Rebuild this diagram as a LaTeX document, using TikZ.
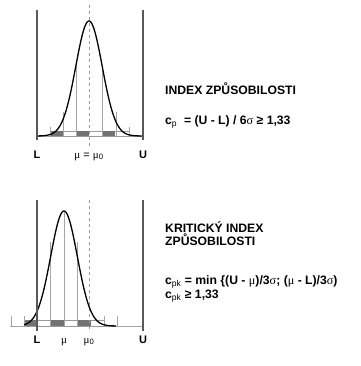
\documentclass[tikz,border=0pt]{standalone}
\usepackage{fontspec}
\setmainfont{Liberation Sans}
\newfontfamily\grk{Liberation Serif}
\usetikzlibrary{positioning}

\tikzset{
  limit/.style={draw=black!65, line width=2pt},
  bell/.style={draw=black, line width=1.3pt},
  sigline/.style={draw=black!35, line width=0.6pt},
  meanline/.style={draw=black!40, dashed, line width=0.6pt},
  band/.style={draw=black!40, line width=0.5pt},
  cell/.style={fill=black!55},
  lbl/.style={font=\bfseries\fontsize{11}{13}\selectfont, anchor=base},
  sym/.style={font=\fontsize{11}{13}\selectfont, anchor=base},
  txt/.style={font=\bfseries\fontsize{12.2}{14}\selectfont, anchor=base west, inner sep=0pt},
}

\begin{document}
\begin{tikzpicture}[x=1pt,y=-1pt]
  \useasboundingbox (0,0) rectangle (360,366);

  % upper chart: mean on target
  \draw[sigline] (37,136) -- (143,136);
  \draw[band] (50,131) rectangle (129,136);
  \foreach \a in {50,76,102}
    \fill[cell] (\a,131) rectangle ++(13.3,5);
  \foreach \a in {76,102}
    \draw[sigline] (\a,136) -- (\a,66);
  \foreach \a in {63,116}
    \draw[sigline] (\a,136) -- (\a,112);
  \foreach \a in {50,129}
    \draw[sigline] (\a,136) -- (\a,127);
  \draw[meanline] (89,5) -- (89,148);
  \draw[bell] plot[domain=37:143, samples=120, smooth]
    (\x, {136 - 115*exp(-((\x-89)/13.2)^2/2)});
  \draw[limit] (37,10) -- (37,140);
  \draw[limit] (143,10) -- (143,140);
  \node[lbl] (L1) at (37,158) {L};
  \node[sym] (M1) at (89,158) {{\grk μ} = {\grk μ}\textsubscript{0}};
  \node[lbl] (U1) at (143,158) {U};

  \node[txt] (T1) at (165,95) {INDEX ZPŮSOBILOSTI};
  \node[txt] (F1) at (165,125)
    {c\textsubscript{\normalfont p} \ = (U - L) / 6{\normalfont\grk σ} ≥ 1,33};

  % lower chart: mean shifted
  \draw[sigline] (10,326) -- (143,326);
  \draw[band] (24,320) rectangle (104,326);
  \foreach \a in {24,50.7,77.3}
    \fill[cell] (\a,320) rectangle ++(13.3,6);
  \foreach \a in {50.7,77.3}
    \draw[sigline] (\a,326) -- (\a,242);
  \draw[sigline] (64,326) -- (64,211);
  \foreach \a in {11,24,104,117}
    \draw[sigline] (\a,326) -- (\a,316);
  \draw[meanline] (89,200) -- (89,330);
  \draw[bell] plot[domain=24:116, samples=120, smooth]
    (\x, {326 - 115*exp(-((\x-64)/13.3)^2/2)});
  \draw[limit] (37,200) -- (37,331);
  \draw[limit] (143,200) -- (143,331);
  \node[lbl] (L2) at (37,343) {L};
  \node[sym] (M2) at (64,343) {\grk μ};
  \node[sym] (M0) at (89,343) {{\grk μ}\textsubscript{0}};
  \node[lbl] (U2) at (143,343) {U};

  \node[txt] (T2) at (165,232) {KRITICKÝ INDEX};
  \node[txt] (T3) at (165,245) {ZPŮSOBILOSTI};
  \node[txt] (F2) at (165,284)
    {c\textsubscript{\normalfont pk} = min \{(U - {\normalfont\grk μ})/3{\normalfont\grk σ}; ({\normalfont\grk μ} - L)/3{\normalfont\grk σ})};
  \node[txt] (F3) at (165,298) {c\textsubscript{\normalfont pk} ≥ 1,33};
\end{tikzpicture}
\end{document}
